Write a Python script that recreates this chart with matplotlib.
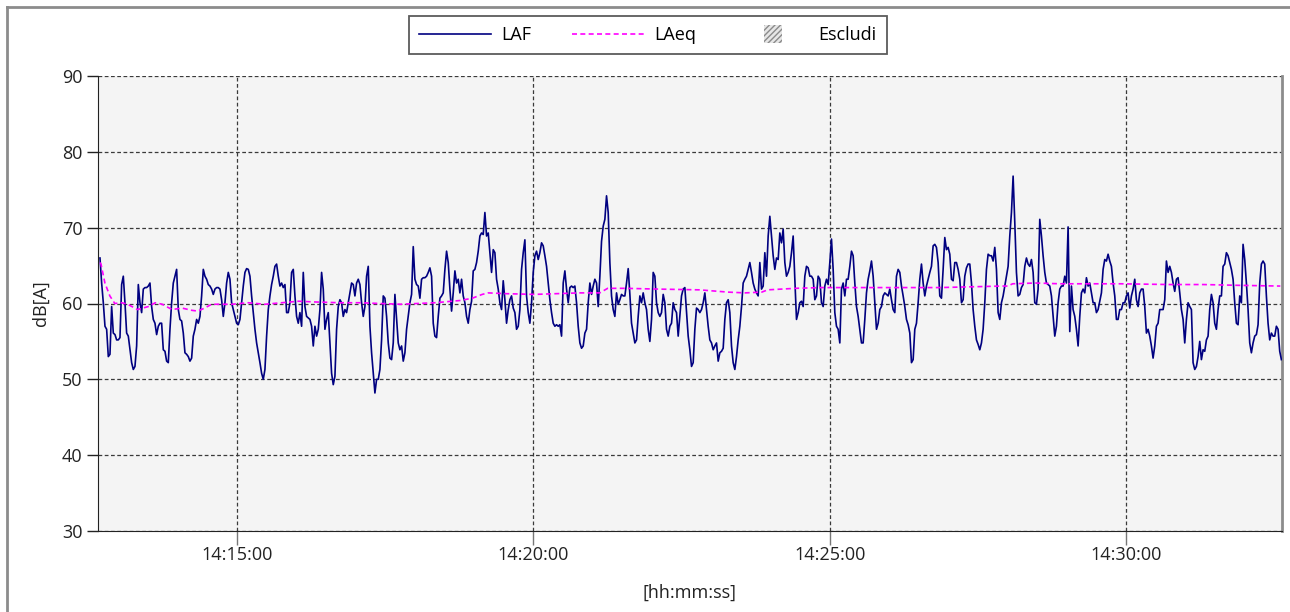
import matplotlib
matplotlib.use("Agg")
import matplotlib.pyplot as plt
import matplotlib.patches as mpatches
from matplotlib.legend_handler import HandlerPatch
from datetime import datetime, timedelta

# ---------------- data ----------------
AXIS_START = datetime(2024, 1, 1, 14, 12, 39, 300000)
AXIS_SPAN_S = 1198.7
LAF_START_S = 2.0
LAF_STEP_S = 1.687

laf_db = [
    66.0, 62.7, 60.1, 57.0, 56.6, 53.0, 53.3, 59.6, 56.1, 55.9, 55.2, 55.2, 55.5, 62.5, 63.6, 60.1, 56.1, 55.7, 53.9, 52.2,
    51.3, 51.7, 54.4, 62.5, 60.1, 58.8, 61.9, 62.1, 62.1, 62.3, 62.7, 59.6, 57.9, 57.4, 55.9, 57.0, 57.4, 57.4, 53.9, 53.7,
    52.4, 52.2, 56.6, 60.1, 62.7, 63.6, 64.5, 59.2, 57.9, 57.7, 56.1, 53.5, 53.3, 53.0, 52.4, 52.8, 55.7, 56.6, 57.9, 57.4,
    58.3, 61.0, 64.5, 63.6, 63.2, 62.5, 62.3, 61.9, 61.2,
    61.9, 62.1, 62.1, 61.9, 60.5, 58.3, 60.1, 62.7, 64.1, 63.2, 60.1, 59.2, 58.3, 57.4, 57.2, 57.9, 60.1, 62.3, 64.1, 64.6,
    64.5, 63.6, 61.0, 58.8, 56.6, 54.8, 53.5, 52.2, 50.8, 50.0, 51.3, 55.7, 59.2, 61.0, 62.5, 63.6, 64.9, 65.2, 63.6, 62.3,
    62.7, 62.1, 62.5, 58.8, 58.8, 60.1, 64.1, 64.5, 61.0, 58.3, 57.4, 58.8, 57.0, 64.1, 59.6, 58.3, 58.1, 57.9, 57.0, 54.4,
    57.0, 55.7, 56.6, 59.2, 64.1, 61.9, 56.6, 57.9, 58.8, 54.8, 50.8, 49.3,
    50.4, 56.6, 59.6, 60.5, 60.1, 58.3, 59.2, 58.8, 60.1, 61.4, 62.7, 62.5, 61.0, 62.7, 63.2, 62.5, 60.1, 58.3, 59.6, 63.6,
    64.9, 57.0, 53.5, 50.8, 48.2, 50.0, 50.0, 51.3, 55.2, 61.0, 60.7, 58.3, 54.8, 52.8, 52.6, 54.8, 61.2, 57.9, 54.8, 53.9,
    54.4, 52.4, 53.5, 56.6, 58.3, 60.1, 61.2, 67.5, 63.2, 62.5, 62.3, 60.7, 63.2, 63.4, 63.4, 63.6, 64.1, 64.7, 63.6, 57.4,
    55.7, 55.5, 58.3, 60.7, 61.0, 61.4, 64.5, 66.9, 65.4, 61.9, 59.0, 61.4,
    64.3, 62.7, 63.2, 61.4, 63.2, 61.0, 60.1, 58.3, 57.4, 59.2, 60.3, 64.3, 64.5, 65.4, 66.9, 68.9, 69.3, 69.1, 72.0, 68.9,
    69.3, 66.7, 64.1, 67.1, 66.7, 63.2, 61.9, 60.1, 59.2, 63.0, 60.5, 57.4, 59.2, 60.5, 61.0, 59.4, 58.8, 56.6, 57.0, 59.2,
    64.5, 66.7, 68.4, 61.0, 58.8, 57.4, 60.1, 64.1, 66.3, 66.9, 65.8, 66.7, 68.0, 67.6, 66.3, 64.9, 62.7, 60.5, 58.8, 57.4,
    57.0, 57.2, 57.0, 57.2, 55.7, 62.7, 64.3, 61.9, 60.1, 62.1, 62.3, 62.1,
    62.3, 60.1, 57.0, 54.8, 54.1, 54.4, 56.1, 56.6, 60.1, 62.7, 61.2, 62.3, 63.2, 62.7, 59.6, 63.6, 68.2, 70.2, 71.1, 74.2,
    72.0, 65.4, 61.0, 59.2, 58.3, 61.4, 59.9, 60.5, 61.2, 61.0, 61.0, 62.7, 64.6, 61.2, 57.4, 56.1, 54.8, 55.2, 58.3, 61.0,
    60.1, 61.4, 60.1, 59.2, 56.6, 55.0, 57.9, 64.1, 63.6, 60.1, 58.8, 58.3, 58.8, 61.2, 60.1, 56.6, 55.7, 57.0, 57.4, 60.1,
    59.2, 58.8, 55.7, 58.3, 61.0, 61.9, 62.1, 58.8, 55.7, 53.9, 51.7, 52.2,
    56.6, 59.4, 59.2, 58.8, 59.2, 60.1, 61.4, 59.2, 57.0, 55.2, 54.8, 53.9, 54.4, 54.8, 52.4, 53.5, 53.7, 54.1, 57.9, 60.1,
    60.5, 58.8, 54.4, 52.2, 51.3, 53.0, 55.2, 57.0, 59.6, 62.7, 63.2, 63.6, 64.5, 65.4, 64.1, 62.7, 61.9, 61.4, 61.0, 65.4,
    61.9, 62.3, 66.7, 63.6, 68.9, 71.5, 68.9, 66.3, 64.5, 66.0, 65.8, 69.3, 68.0, 69.8, 65.4, 63.6, 64.1, 64.9, 66.7, 68.9,
    63.2, 57.9, 58.8, 60.1, 60.3, 59.6, 63.6, 64.9, 64.7, 63.6, 63.6, 63.2,
    60.5, 61.0, 63.6, 63.2, 60.1, 59.6, 62.3, 63.2, 62.5, 65.4, 68.5, 64.5, 58.8, 57.0, 56.6, 54.8, 61.9, 62.7, 61.0, 63.2,
    63.2, 64.9, 66.9, 66.3, 62.7, 59.6, 58.3, 56.6, 54.8, 54.8, 57.9, 61.4, 63.2, 64.3, 65.6, 63.6, 60.1, 56.6, 57.4, 59.2,
    59.6, 61.0, 61.4, 61.2, 61.0, 61.9, 60.5, 59.2, 58.8, 63.6, 64.5, 64.1, 62.3, 61.0, 59.6, 57.9, 57.2, 56.1, 52.2, 52.6,
    56.6, 57.4, 60.1, 63.2, 65.2, 62.7, 61.0, 62.3, 63.2, 64.1, 64.9, 67.6,
    67.8, 67.4, 65.4, 61.0, 60.7, 64.5, 68.7, 67.1, 67.4, 66.5, 63.2, 63.0, 65.4, 65.4, 64.5, 63.2, 60.1, 60.5, 63.6, 64.7,
    65.2, 65.2, 62.7, 59.2, 57.0, 55.2, 54.6, 53.9, 54.8, 56.6, 60.1, 64.5, 66.5, 66.3, 66.3, 65.6, 67.4, 64.5, 58.8, 57.9,
    60.1, 61.0, 62.3, 63.6, 64.9, 68.9, 72.0, 76.8, 70.7, 64.1, 61.0, 61.2, 62.1, 62.5, 64.9, 66.0, 65.2, 64.9, 65.8, 64.1,
    60.1, 59.9, 61.9, 71.1, 68.9, 66.3, 64.1, 62.7, 62.5, 62.3, 61.0, 58.3,
    55.7, 57.0, 60.1, 61.9, 62.3, 62.3, 63.6, 62.7, 70.1, 56.3, 62.3, 59.2, 58.3, 56.6, 54.4, 58.3, 61.4, 61.9, 61.4, 63.4,
    62.3, 62.7, 61.4, 60.1, 60.1, 58.8, 59.2, 60.3, 61.4, 64.5, 65.8, 65.6, 66.5, 65.6, 64.9, 62.7, 61.0, 57.9, 57.9, 59.2,
    59.2, 60.1, 60.1, 61.0, 61.4, 59.4, 61.0, 61.9, 63.2, 60.5, 59.6, 61.4, 61.9, 61.9, 59.6, 56.1, 56.6, 55.7, 54.4, 52.8,
    54.4, 57.0, 57.4, 59.2, 59.2, 59.2, 60.5, 65.6, 64.1,
    64.9, 64.1, 62.7, 61.6, 63.2, 63.4, 61.4, 59.2, 57.9, 54.8, 57.9, 60.1, 59.6, 59.2, 52.2, 51.3, 51.7, 53.0, 55.0, 52.6,
    53.9, 53.7, 55.2, 55.7, 59.2, 61.2, 60.1, 57.4, 56.6, 59.2, 61.0, 61.0, 64.9, 65.2, 66.7, 66.3, 65.4, 64.5, 63.2, 60.1,
    57.4, 57.2, 61.0, 60.1, 67.8, 65.8, 62.7, 59.2, 54.8, 53.5, 54.8, 55.7, 55.9, 57.2, 62.7, 65.2, 65.6, 65.2, 61.0, 57.4,
    55.2, 56.1, 55.7, 55.7, 57.0, 56.6, 53.7, 52.6,
]

laeq_t_s = [2, 3, 7, 12, 17, 24, 30, 40, 51, 58, 65, 75, 85, 95, 101, 108, 115, 136, 152, 169,
            186, 203, 220, 245, 265, 306, 341, 367, 379, 389, 395, 412, 442, 488, 508, 516, 534, 567, 609, 638,
            655, 672, 678, 706, 732, 852, 915, 921, 926, 949, 974, 1035, 1085, 1119, 1153, 1197]
laeq_db = [65.4, 65.2, 62.7, 61.0, 60.0, 60.1, 59.9, 59.2, 59.6, 60.1, 59.9, 59.2, 59.4, 59.1, 59.0, 59.4, 59.9, 59.9, 60.1, 59.9,
           60.1, 60.3, 60.2, 60.1, 60.1, 59.9, 60.1, 60.4, 60.7, 61.2, 61.4, 61.3, 61.2, 61.4, 61.4, 62.0, 62.0, 61.9, 61.8, 61.5,
           61.4, 61.5, 61.8, 62.0, 62.1, 62.1, 62.3, 62.3, 62.6, 62.7, 62.6, 62.6, 62.5, 62.5, 62.4, 62.3]

y_ticks = [30, 40, 50, 60, 70, 80, 90]
x_tick_labels = ["14:15:00", "14:20:00", "14:25:00", "14:30:00"]
series_labels = ["LAF", "LAeq", "Escludi"]
x_title = "[hh:mm:ss]"
y_title = "dB[A]"

# ---------------- figure ----------------
plt.rcParams["font.family"] = ["Open Sans", "DejaVu Sans"]
FS = 13
W, H = 1290, 612
fig = plt.figure(figsize=(W / 100, H / 100), dpi=100)
fig.patch.set_facecolor("white")

L, R, T, B = 98, 1282, 76, 531
ax = fig.add_axes([L / W, 1 - B / H, (R - L) / W, (B - T) / H])
ax.set_facecolor("#f4f4f4")

laf_times = [AXIS_START + timedelta(seconds=LAF_START_S + i * LAF_STEP_S) for i in range(len(laf_db))]
laeq_times = [AXIS_START + timedelta(seconds=s) for s in laeq_t_s]

line_laf, = ax.plot(laf_times, laf_db, color="#000080", lw=1.2, label=series_labels[0], zorder=3)
line_laeq, = ax.plot(laeq_times, laeq_db, color="#ff00ff", lw=1.2, ls=(0, (3, 2)), label=series_labels[1], zorder=4)
escl = mpatches.Patch(facecolor="#e6e6e6", edgecolor="#8a8a8a", hatch="//////", lw=0, label=series_labels[2])

ax.set_ylim(y_ticks[0], y_ticks[-1])
ax.set_yticks(y_ticks)
ax.set_xlim(AXIS_START, AXIS_START + timedelta(seconds=AXIS_SPAN_S))
tick_dt = [datetime.combine(AXIS_START.date(), datetime.strptime(s, "%H:%M:%S").time()) for s in x_tick_labels]
ax.set_xticks(tick_dt)
ax.set_xticklabels(x_tick_labels)

ax.grid(True, color="#3a3a3a", ls=(0, (3, 2)), lw=0.9, zorder=1)
ax.set_axisbelow(True)
ax.spines["top"].set_visible(False)
ax.spines["left"].set_color("#222222")
ax.spines["bottom"].set_color("#222222")
ax.spines["right"].set_color("#8c8c8c")
ax.spines["right"].set_linewidth(2)

ax.tick_params(axis="y", length=8, width=1, color="#222222", labelsize=FS, pad=3, labelcolor="#222222")
ax.tick_params(axis="x", length=10, width=1, color="#777777", labelsize=FS, pad=1, labelcolor="#222222")

ax.set_ylabel(y_title, fontsize=FS, color="#222222", labelpad=9)
ax.set_xlabel(x_title, fontsize=FS, color="#222222", labelpad=14)


def small_square(legend, orig_handle, xdescent, ydescent, width, height, fontsize):
    s = width * 0.25
    return mpatches.Rectangle((-xdescent + width / 2 - s / 2, -ydescent + height / 2 - s / 2), s, s)


leg = fig.legend(handles=[line_laf, line_laeq, escl], ncol=3, loc="center",
                 bbox_to_anchor=(648 / W, 1 - 35 / H), bbox_transform=fig.transFigure,
                 fontsize=FS, frameon=True, fancybox=False, edgecolor="#333333",
                 handlelength=4.0, handletextpad=0.55, columnspacing=2.25, borderpad=0.55,
                 handler_map={mpatches.Patch: HandlerPatch(patch_func=small_square)})
leg.get_frame().set_linewidth(1.3)

# outer frame (left and top edges)
fig.add_artist(plt.Line2D([7 / W, 7 / W], [0, 1 - 7 / H], transform=fig.transFigure, color="#8c8c8c", lw=2))
fig.add_artist(plt.Line2D([7 / W, 1.0], [1 - 7 / H, 1 - 7 / H], transform=fig.transFigure, color="#8c8c8c", lw=2))

fig.savefig("out.png", dpi=100, facecolor="white")
